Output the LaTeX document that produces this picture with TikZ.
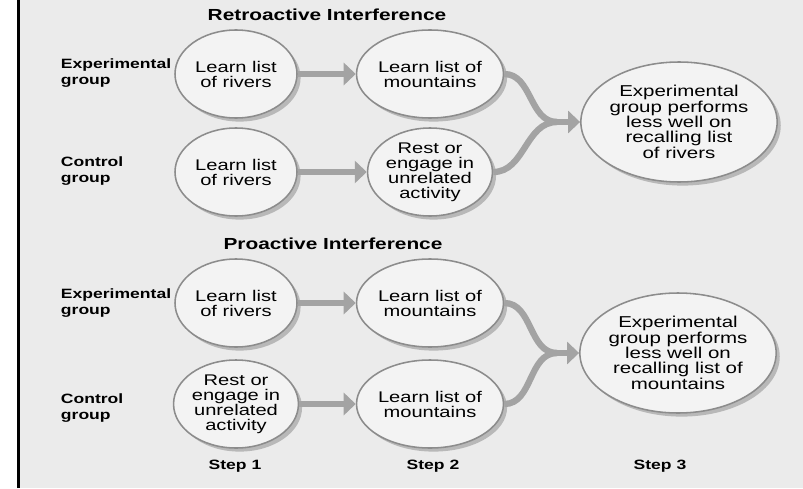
\documentclass[tikz,border=0pt]{standalone}
\usepackage{fontspec}
\setmainfont[FakeStretch=1.3]{Liberation Sans}
\usepackage{tikz}
\usetikzlibrary{arrows.meta, shapes.geometric, shadows}

\definecolor{bggray}{HTML}{EBEBEB}
\definecolor{ringgray}{HTML}{8C8C8C}
\definecolor{arrowgray}{HTML}{A3A3A3}
\definecolor{fillgray}{HTML}{F3F3F3}

\begin{document}
\begin{tikzpicture}[
    stage/.style={ellipse, draw=ringgray, line width=1.1pt, fill=fillgray,
        minimum width=3.05cm, minimum height=2.2cm, inner sep=0pt, align=center,
        font=\fontsize{11}{10.7}\selectfont,
        drop shadow={shadow xshift=0.09cm, shadow yshift=-0.09cm, fill=black!28, opacity=1}},
    result/.style={stage, minimum width=4.2cm, minimum height=3cm,
        font=\fontsize{11.2}{10.9}\selectfont},
    grp/.style={anchor=west, align=left, font=\fontsize{9.6}{12}\selectfont\bfseries},
    heading/.style={font=\fontsize{11.4}{13}\selectfont\bfseries},
    band/.style={arrowgray, line width=4.5pt},
    flow/.style={band, -{Triangle[length=0.3cm, width=0.55cm]}}
]
    \useasboundingbox (0,0) rectangle (20.075,12.2);
    % Page background with the rule on the left
    \fill[white] (0,0) rectangle (0.475,12.2);
    \fill[bggray] (0.475,0) rectangle (20.075,12.2);
    \draw[line width=2.2pt] (0.46,0) -- (0.46,12.2);

    % Retroactive interference
    \node[heading] (retro) at (8.175,11.825) {Retroactive Interference};
    \node[grp] (retroexp) at (1.4,10.375) {Experimental\\group};
    \node[grp] (retroctl) at (1.4,7.925) {Control\\group};

    \node[stage] (r1e) at (5.9,10.35) {Learn list\\of rivers};
    \node[stage] (r2e) at (10.75,10.35) {Learn list of\\mountains};
    \node[stage] (r1c) at (5.9,7.9) {Learn list\\of rivers};
    \node[stage] (r2c) at (10.75,7.9) {Rest or\\engage in\\unrelated\\activity};
    \node[result] (r3) at (16.975,9.15) {Experimental\\group performs\\less well on\\recalling list\\of rivers};

    \draw[flow] (r1e) -- (r2e);
    \draw[flow] (r1c) -- (r2c);
    \coordinate (rm) at (13.925,9.15);
    \draw[band] (r2e.east) to[out=0, in=180] (rm);
    \draw[band] (r2c.east) to[out=0, in=180] (rm);
    \draw[flow] (rm) -- (r3);

    % Proactive interference
    \node[heading] (pro) at (8.325,6.1) {Proactive Interference};
    \node[grp] (proexp) at (1.4,4.625) {Experimental\\group};
    \node[grp] (proctl) at (1.4,2.0) {Control\\group};

    \node[stage] (p1e) at (5.9,4.625) {Learn list\\of rivers};
    \node[stage] (p2e) at (10.75,4.625) {Learn list of\\mountains};
    \node[stage] (p1c) at (5.9,2.1) {Rest or\\engage in\\unrelated\\activity};
    \node[stage] (p2c) at (10.75,2.1) {Learn list of\\mountains};
    \node[result] (p3) at (16.95,3.375) {Experimental\\group performs\\less well on\\recalling list of\\mountains};

    \draw[flow] (p1e) -- (p2e);
    \draw[flow] (p1c) -- (p2c);
    \coordinate (pm) at (13.925,3.375);
    \draw[band] (p2e.east) to[out=0, in=180] (pm);
    \draw[band] (p2c.east) to[out=0, in=180] (pm);
    \draw[flow] (pm) -- (p3);

    % Steps along the bottom
    \node[grp, anchor=center] (step1) at (5.875,0.55) {Step 1};
    \node[grp, anchor=center] (step2) at (10.825,0.55) {Step 2};
    \node[grp, anchor=center] (step3) at (16.5,0.55) {Step 3};
\end{tikzpicture}
\end{document}
